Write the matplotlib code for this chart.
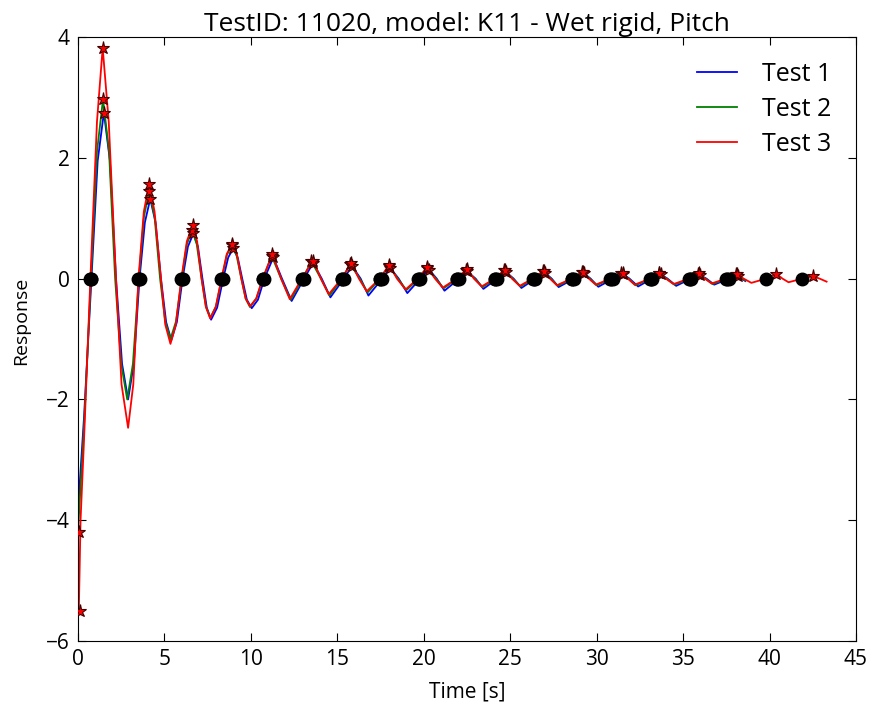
import numpy as np
import matplotlib.pyplot as plt

plt.rcParams['font.family'] = ['Open Sans', 'DejaVu Sans']

# Damped pitch response for three tests
tests = ['Test 1', 'Test 2', 'Test 3']
colors = ['b', 'g', 'r']

start_t = [0.0, 0.0, 0.05]
start_y = [-3.85, -4.2, -5.5]
end_t = [38.6, 38.6, 43.3]
end_y = [-0.04, -0.03, -0.05]

peak_t = [
    [1.5, 4.18, 6.68, 8.98, 11.3, 13.6, 15.85, 18.05, 20.3, 22.5, 24.75, 27.0, 29.25, 31.5, 33.7, 35.95, 38.15],
    [1.45, 4.12, 6.6, 8.9, 11.2, 13.5, 15.75, 18.0, 20.2, 22.45, 24.65, 26.9, 29.15, 31.4, 33.6, 35.85, 38.05],
    [1.43, 4.12, 6.63, 8.93, 11.24, 13.6, 15.8, 18.0, 20.2, 22.5, 24.7, 26.95, 29.2, 31.5, 33.6, 35.9, 38.1, 40.4, 42.5],
]
peak_y = [
    [2.75, 1.32, 0.75, 0.50, 0.35, 0.26, 0.21, 0.18, 0.15, 0.12, 0.11, 0.10, 0.09, 0.08, 0.07, 0.06, 0.05],
    [2.97, 1.45, 0.80, 0.55, 0.38, 0.29, 0.24, 0.21, 0.18, 0.15, 0.14, 0.12, 0.11, 0.10, 0.09, 0.08, 0.07],
    [3.82, 1.57, 0.88, 0.58, 0.40, 0.30, 0.26, 0.23, 0.19, 0.16, 0.15, 0.13, 0.11, 0.10, 0.10, 0.09, 0.08, 0.08, 0.04],
]

trough_t = [
    [2.9, 5.4, 7.7, 10.05, 12.36, 14.6, 16.8, 19.05, 21.2, 23.45, 25.65, 27.8, 30.1, 32.4, 34.6, 36.8],
    [2.85, 5.35, 7.65, 9.95, 12.3, 14.55, 16.75, 19.0, 21.15, 23.4, 25.6, 27.75, 30.0, 32.25, 34.5, 36.7],
    [2.9, 5.35, 7.65, 9.95, 12.25, 14.5, 16.7, 18.95, 21.1, 23.35, 25.55, 27.7, 29.95, 32.2, 34.45, 36.65, 38.95, 41.1],
]
trough_y = [
    [-2.0, -1.02, -0.68, -0.49, -0.37, -0.31, -0.28, -0.24, -0.20, -0.17, -0.155, -0.14, -0.135, -0.13, -0.12, -0.10],
    [-2.0, -1.0, -0.65, -0.47, -0.35, -0.28, -0.23, -0.19, -0.16, -0.14, -0.13, -0.12, -0.11, -0.11, -0.10, -0.09],
    [-2.47, -1.08, -0.66, -0.46, -0.34, -0.26, -0.21, -0.18, -0.15, -0.13, -0.12, -0.11, -0.10, -0.10, -0.09, -0.08, -0.07, -0.06],
]

# upward zero crossings (black dots) and downward ones
up_t = [
    [0.78, 3.56, 6.05, 8.4, 10.78, 13.08, 15.38, 17.6, 19.8, 22.05, 24.25, 26.45, 28.7, 30.95, 33.2, 35.45, 37.65],
    [0.75, 3.52, 6.0, 8.32, 10.7, 13.0, 15.28, 17.48, 19.7, 21.95, 24.15, 26.35, 28.6, 30.85, 33.15, 35.4, 37.55],
    [0.72, 3.5, 5.98, 8.3, 10.68, 12.95, 15.25, 17.45, 19.65, 21.9, 24.1, 26.3, 28.55, 30.8, 33.1, 35.35, 37.5, 39.8, 41.9],
]
down_t = [
    [2.2, 4.8, 7.2, 9.5, 11.8, 14.1, 16.35, 18.55, 20.75, 23.0, 25.2, 27.4, 29.65, 31.9, 34.1, 36.35],
    [2.15, 4.75, 7.15, 9.45, 11.75, 14.05, 16.3, 18.5, 20.7, 22.95, 25.15, 27.35, 29.6, 31.85, 34.05, 36.3],
    [2.2, 4.8, 7.15, 9.45, 11.75, 14.05, 16.25, 18.45, 20.65, 22.9, 25.1, 27.3, 29.55, 31.8, 34.0, 36.25, 38.5, 40.75, 42.9],
]

# extra points read on the flanks of the big early swings
flank_t = [
    [0.35, 1.14, 1.85, 2.55, 3.23, 3.87, 4.49, 5.1, 5.72, 6.36, 6.94, 7.45, 8.05, 8.69, 9.24, 9.77, 10.41],
    [0.35, 1.1, 1.8, 2.5, 3.18, 3.82, 4.43, 5.05, 5.67, 6.3, 6.87, 7.4, 7.98, 8.61, 9.17, 9.7, 10.32],
    [0.15, 0.35, 1.1, 1.78, 2.52, 3.2, 3.81, 4.43, 5.05, 5.66, 6.3, 6.89, 7.4, 7.97, 8.61, 9.19, 9.7, 10.31],
]
flank_y = [
    [-2.3, 1.95, 1.95, -1.41, -1.41, 0.93, 0.93, -0.72, -0.72, 0.53, 0.53, -0.48, -0.48, 0.35, 0.35, -0.35, -0.35],
    [-2.45, 2.1, 2.1, -1.41, -1.41, 1.03, 1.03, -0.71, -0.71, 0.57, 0.57, -0.46, -0.46, 0.39, 0.39, -0.33, -0.33],
    [-4.0, -2.67, 2.6, 2.6, -1.75, -1.75, 1.11, 1.11, -0.76, -0.76, 0.62, 0.62, -0.47, -0.47, 0.41, 0.41, -0.33, -0.33],
]

fig = plt.figure(figsize=(8.73, 7.08), dpi=100)
ax = fig.add_axes([0.0893, 0.0946, 0.8912, 0.8531])

for i in range(3):
    t = np.concatenate([[start_t[i]], peak_t[i], trough_t[i], up_t[i], down_t[i],
                        flank_t[i], [end_t[i]]])
    y = np.concatenate([[start_y[i]], peak_y[i], trough_y[i],
                        np.zeros(len(up_t[i])), np.zeros(len(down_t[i])),
                        flank_y[i], [end_y[i]]])
    order = np.argsort(t)
    ax.plot(t[order], y[order], color=colors[i], lw=1.3, label=tests[i])

for i in range(3):
    st, sy = peak_t[i], peak_y[i]
    if i > 0:
        st = [start_t[i] + 0.05] + st
        sy = [start_y[i]] + sy
    ax.plot(st, sy, 'r*', ms=9.5, mec='#400000', mew=0.8, zorder=5)
    ax.plot(up_t[i], np.zeros(len(up_t[i])), 'ko', ms=9, zorder=6)

ax.set_xlim(0, 45)
ax.set_ylim(-6, 4)
ax.set_xticks(np.arange(0, 46, 5))
ax.set_yticks([-6, -4, -2, 0, 2, 4])
ax.tick_params(direction='in', top=True, right=True, labelsize=15, length=6, pad=6)
ax.set_xlabel('Time [s]', fontsize=15, labelpad=8)
ax.set_ylabel('Response', fontsize=14)
ax.yaxis.set_label_coords(-0.062, 0.53)
ax.set_title('TestID: 11020, model: K11 - Wet rigid, Pitch', fontsize=19, pad=4)
ax.legend(loc='upper right', frameon=False, fontsize=18, handlelength=1.6,
          handletextpad=1.0, labelspacing=0.4, borderaxespad=0.6)

plt.savefig('out.png', dpi=100)
